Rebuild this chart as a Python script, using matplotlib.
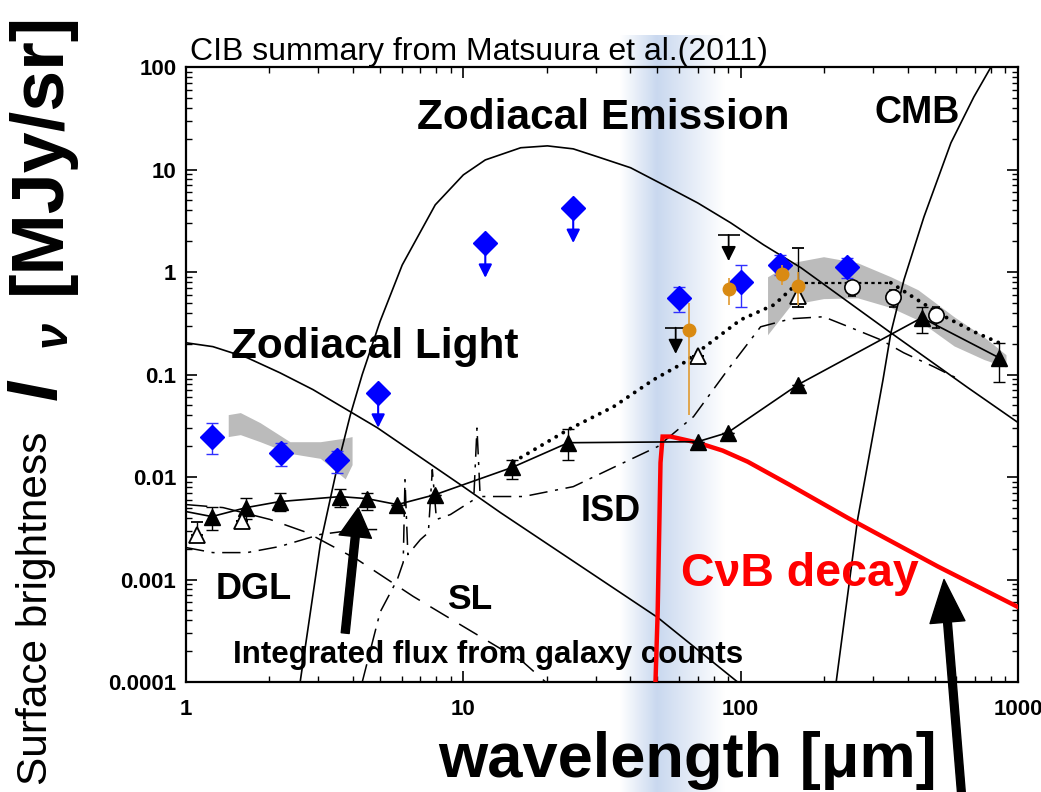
import numpy as np
import matplotlib.pyplot as plt
from matplotlib.ticker import NullFormatter

plt.rcParams['font.family'] = ['Liberation Sans', 'DejaVu Sans']

# -------------------------
# data (wavelength in um, brightness in MJy/sr)
# -------------------------
# Zodiacal emission
ze_x = [2.58, 3.05, 3.51, 3.91, 4.32, 5.01, 6.02, 7.92, 10.0, 12.0, 16.1, 20.1, 24.9,
        30.5, 40.1, 52.7, 70.0, 92.0, 121, 165, 348, 660, 1000]
ze_y = [1.0e-4, 2.2e-3, 0.0125, 0.040, 0.10, 0.33, 1.17, 4.52, 8.86, 12.4, 16.3, 17.0, 15.9,
        13.3, 10.4, 7.08, 4.72, 3.02, 1.84, 1.10, 0.255, 0.0743, 0.034]

# Zodiacal light
zl_x = [1.0, 1.25, 1.66, 2.18, 2.87, 4.89, 10.0, 13.6, 50.2, 97.5]
zl_y = [0.204, 0.187, 0.146, 0.104, 0.0712, 0.0303, 8.05e-3, 4.5e-3, 4.26e-4, 1.0e-4]

# CMB
cmb_x = [221, 264, 326, 348, 388, 458, 573, 693, 799]
cmb_y = [1.0e-4, 3.85e-3, 0.0889, 0.255, 0.84, 3.45, 18.2, 51, 100]

# starlight (long dashes)
sl_x = [1.0, 1.36, 2.01, 2.73, 4.14, 6.60, 10.0, 16.5, 19.8]
sl_y = [5.38e-3, 5.03e-3, 3.85e-3, 2.87e-3, 1.57e-3, 6.83e-4, 3.48e-4, 1.55e-4, 1.0e-4]

# DGL (dash-dot, near-IR)
dgl_x = [1.0, 1.25, 1.66, 2.18, 3.05, 4.14, 4.89]
dgl_y = [2.05e-3, 1.83e-3, 1.83e-3, 2.10e-3, 2.75e-3, 3.07e-3, 3.07e-3]

# ISD (dash-dot, with PAH features)
isd_x = [4.32, 5.01, 5.78, 6.07, 6.16, 6.31, 7.0, 7.48, 7.73, 8.0, 8.98, 10.9, 11.2, 11.5,
         16.5, 24.9, 34.8, 50.2, 67.6, 89.8, 118, 152, 199, 250, 320, 387, 497, 597]
isd_y = [1.0e-4, 4.8e-4, 1.0e-3, 1.47e-3, 9.4e-3, 1.75e-3, 2.45e-3, 2.87e-3, 0.0118, 3.85e-3,
         4.3e-3, 6.0e-3, 0.030, 6.45e-3, 6.45e-3, 8.05e-3, 0.0124, 0.0198, 0.0388, 0.111,
         0.292, 0.35, 0.366, 0.286, 0.218, 0.163, 0.119, 0.093]

# integrated galaxy counts (filled triangles + line)
gc_line_x = [1.0, 1.24, 1.65, 2.18, 3.60, 4.50, 5.78, 7.92, 15.0, 23.9, 70.0, 89.8, 161, 450, 853]
gc_line_y = [4.6e-3, 4.11e-3, 5.03e-3, 5.76e-3, 6.44e-3, 6.15e-3, 5.38e-3, 6.73e-3, 0.0124,
             0.0216, 0.0221, 0.0271, 0.0796, 0.358, 0.146]
tri_x = gc_line_x[1:]
tri_y = gc_line_y[1:]
tri_hi = [5.14e-3, 6.3e-3, 7.05e-3, 7.7e-3, 7.05e-3, 5.38e-3, 6.73e-3, 0.0148, 0.0297,
          0.0221, 0.0271, 0.0796, 0.458, 0.204]
tri_lo = [3.07e-3, 3.85e-3, 4.71e-3, 5.14e-3, 4.81e-3, 5.38e-3, 6.73e-3, 9.6e-3, 0.0148,
          0.0221, 0.0271, 0.0796, 0.255, 0.085]

# open triangles
otri_x = [1.10, 1.59, 70.0, 161]
otri_y = [2.69e-3, 3.76e-3, 0.15, 0.586]
otri_hi = [3.67e-3, 3.76e-3, 0.15, 1.72]
otri_lo = [2.69e-3, 3.76e-3, 0.15, 0.458]

# open circles
ocir_x = [252, 354, 506]
ocir_y = [0.718, 0.573, 0.383]
ocir_hi = [0.78, 0.671, 0.458]
ocir_lo = [0.58, 0.458, 0.286]

# dotted model
dot_x = [15.2, 23.9, 34.8, 48.5, 62.3, 100, 132, 161, 348, 422, 528, 694, 854]
dot_y = [0.0141, 0.029, 0.0485, 0.0889, 0.130, 0.342, 0.479, 0.785, 0.785, 0.561, 0.383,
         0.261, 0.204]

# gray bands
nir_band_x = [1.42, 1.57, 1.85, 2.37, 3.05, 3.75, 3.97]
nir_band_hi = [0.0406, 0.0425, 0.0339, 0.0221, 0.0221, 0.024, 0.0248]
nir_band_lo = [0.0248, 0.0259, 0.0221, 0.0170, 0.0152, 0.0096, 0.0132]
fir_band_x = [125, 152, 199, 264, 348, 436, 588, 754, 905]
fir_band_hi = [0.898, 1.23, 1.41, 1.23, 0.898, 0.671, 0.366, 0.233, 0.156]
fir_band_lo = [0.244, 0.48, 0.55, 0.56, 0.45, 0.34, 0.19, 0.14, 0.118]

# blue diamonds (detections)
bd_x = [1.24, 2.20, 3.51, 59.7, 100, 139, 241]
bd_y = [0.0248, 0.0173, 0.0148, 0.561, 0.80, 1.17, 1.12]
bd_hi = [0.0339, 0.0216, 0.0181, 0.718, 1.17, 1.47, 1.37]
bd_lo = [0.0169, 0.0129, 0.0110, 0.409, 0.458, 0.94, 0.877]

# blue diamonds (upper limits)
bul_x = [4.93, 12.0, 24.9]
bul_y = [0.0665, 1.93, 4.22]

# orange points
or_x = [64.9, 90.5, 141, 161]
or_y = [0.273, 0.686, 0.960, 0.734]
or_hi = [0.501, 0.877, 1.17, 1.0]
or_lo = [0.0406, 0.479, 0.75, 0.479]

# black upper limits
kul_x = [58.3, 90.5]
kul_y = [0.286, 2.3]

# C nu B decay
cnb_x = [49.3, 50.2, 51.4, 52.3, 55.9, 70.0, 86.1, 106, 150, 243, 514, 1008]
cnb_y = [1.0e-4, 4.77e-4, 0.0138, 0.0248, 0.0248, 0.0216, 0.0181, 0.0141, 8.4e-3, 4.0e-3,
         1.34e-3, 5.33e-4]

xtick_vals = [1, 10, 100, 1000]
xtick_labels = ['1', '10', '100', '1000']
ytick_vals = [1e-4, 1e-3, 1e-2, 1e-1, 1, 10, 100]
ytick_labels = ['0.0001', '0.001', '0.01', '0.1', '1', '10', '100']

# -------------------------
# figure
# -------------------------
W, H = 1041, 792
fig = plt.figure(figsize=(W / 100, H / 100), dpi=100)

# blue vertical glow behind the plot
bg = fig.add_axes([620 / W, 0, 105 / W, 757 / H], zorder=0)
cols = np.linspace(620, 725, 220)
alpha = np.interp(cols, [620, 657, 725], [0.0, 1.0, 0.0])
grad = np.zeros((1, len(cols), 4))
grad[..., 0] = 0.79
grad[..., 1] = 0.85
grad[..., 2] = 0.94
grad[..., 3] = alpha
bg.imshow(grad, aspect='auto', extent=[0, 1, 0, 1])
bg.axis('off')

ax = fig.add_axes([186 / W, 1 - 682 / H, 832 / W, 615 / H], zorder=1)
ax.patch.set_alpha(0)
ax.set_xscale('log')
ax.set_yscale('log')
ax.set_xlim(1, 1000)
ax.set_ylim(1e-4, 100)

ax.fill_between(nir_band_x, nir_band_lo, nir_band_hi, color='#bbbbbb', lw=0, zorder=1)
ax.fill_between(fir_band_x, fir_band_lo, fir_band_hi, color='#bbbbbb', lw=0, zorder=1)

ax.plot(ze_x, ze_y, color='black', lw=1.2, zorder=2)
ax.plot(zl_x, zl_y, color='black', lw=1.2, zorder=2)
ax.plot(cmb_x, cmb_y, color='black', lw=1.2, zorder=2)
ax.plot(sl_x, sl_y, color='black', lw=1.1, ls=(0, (14, 8)), zorder=2)
ax.plot(dgl_x, dgl_y, color='black', lw=1.1, ls=(0, (12, 5, 2, 5)), zorder=2)
ax.plot(isd_x, isd_y, color='black', lw=1.1, ls=(0, (12, 5, 2, 5)), zorder=2)

ax.plot(dot_x[:8], dot_y[:8], color='black', lw=2.8, ls=(0, (0.01, 2.1)),
        dash_capstyle='round', zorder=3)
ax.plot(dot_x[7:9], dot_y[7:9], color='black', lw=1.6, ls=(0, (1.5, 1.5)), zorder=3)
ax.plot(dot_x[8:], dot_y[8:], color='black', lw=2.8, ls=(0, (0.01, 2.1)),
        dash_capstyle='round', zorder=3)

ax.plot(cnb_x, cnb_y, color='#ff0000', lw=3.2, zorder=4, solid_joinstyle='miter')

ax.plot(gc_line_x, gc_line_y, color='black', lw=1.2, zorder=5)
ty = np.array(tri_y)
ax.errorbar(tri_x, tri_y, yerr=[ty - np.array(tri_lo), np.array(tri_hi) - ty], fmt='^',
            color='black', ms=11, ecolor='black', elinewidth=1, capsize=4, zorder=6)

oy = np.array(otri_y)
ax.errorbar(otri_x, otri_y, yerr=[oy - np.array(otri_lo), np.array(otri_hi) - oy], fmt='^',
            mfc='white', mec='black', mew=1.3, ms=11.5, ecolor='black', elinewidth=1,
            capsize=4, zorder=6)

cy = np.array(ocir_y)
ax.errorbar(ocir_x, ocir_y, yerr=[cy - np.array(ocir_lo), np.array(ocir_hi) - cy], fmt='o',
            mfc='white', mec='black', mew=1.2, ms=11, ecolor='black', elinewidth=1,
            capsize=3, zorder=6)

by = np.array(bd_y)
ax.errorbar(bd_x, bd_y, yerr=[by - np.array(bd_lo), np.array(bd_hi) - by], fmt='D',
            color='#0000ff', ms=12, ecolor='#3030ff', elinewidth=1, capsize=4, zorder=7)

ax.plot(bul_x, bul_y, 'D', color='#0000ff', ms=12, zorder=7)
for x, y in zip(bul_x, bul_y):
    ax.annotate('', xy=(x, y / 2.2), xytext=(x, y),
                arrowprops=dict(arrowstyle='-|>', color='#0000ff', lw=1.5,
                                mutation_scale=20, shrinkA=0, shrinkB=0), zorder=7)

ry = np.array(or_y)
ax.errorbar(or_x, or_y, yerr=[ry - np.array(or_lo), np.array(or_hi) - ry], fmt='o',
            color='#d98a12', ms=9, ecolor='#e09a30', elinewidth=1.2, capsize=0, zorder=8)

ax.plot(kul_x, kul_y, '_', color='black', ms=16, mew=1.2, zorder=8)
for x, y in zip(kul_x, kul_y):
    ax.annotate('', xy=(x, y / 1.8), xytext=(x, y),
                arrowprops=dict(arrowstyle='-|>', color='black', lw=1.3,
                                mutation_scale=22, shrinkA=0, shrinkB=0), zorder=8)

# arrows
ax.annotate('', xy=(4.18, 5.0e-3), xytext=(3.75, 3.0e-4),
            arrowprops=dict(arrowstyle='simple,head_width=0.9,head_length=0.8,tail_width=0.22',
                            color='black', mutation_scale=26, shrinkA=0, shrinkB=0), zorder=9)
ax.annotate('', xy=(541, 1.0e-3), xytext=(962 / W, -0.01), textcoords='figure fraction',
            arrowprops=dict(arrowstyle='simple,head_width=0.9,head_length=1.1,tail_width=0.2',
                            color='black', mutation_scale=28, shrinkA=0, shrinkB=0),
            annotation_clip=False, zorder=9)

# labels inside the plot
ax.text(32.0, 31.9, 'Zodiacal Emission', fontsize=30.5, fontweight='bold', ha='center', va='center')
ax.text(4.81, 0.187, 'Zodiacal Light', fontsize=30.5, fontweight='bold', ha='center', va='center')
ax.text(432, 35.6, 'CMB', fontsize=27, fontweight='bold', ha='center', va='center')
ax.text(1.75, 8.0e-4, 'DGL', fontsize=26, fontweight='bold', ha='center', va='center')
ax.text(10.5, 6.4e-4, 'SL', fontsize=25.5, fontweight='bold', ha='center', va='center')
ax.text(33.9, 4.6e-3, 'ISD', fontsize=26, fontweight='bold', ha='center', va='center')
ax.text(163, 1.12e-3, 'C\u03bdB decay', fontsize=33.5, fontweight='bold', color='#ff0000',
        ha='center', va='center')
ax.text(12.3, 1.85e-4, 'Integrated flux from galaxy counts', fontsize=22.5, fontweight='bold',
        ha='center', va='center')

ax.text(0.005, 1.0, 'CIB summary from Matsuura et al.(2011)', transform=ax.transAxes,
        fontsize=23, ha='left', va='bottom')

# axes styling
ax.set_xticks(xtick_vals, xtick_labels)
ax.set_yticks(ytick_vals, ytick_labels)
ax.xaxis.set_minor_formatter(NullFormatter())
ax.yaxis.set_minor_formatter(NullFormatter())
ax.tick_params(which='both', direction='in', top=True, right=True)
ax.tick_params(which='major', length=8, width=1.2, labelsize=16)
ax.tick_params(axis='x', which='major', pad=12)
ax.tick_params(axis='y', which='major', pad=7)
ax.tick_params(which='minor', length=4.5, width=1.0)
for lab in ax.get_xticklabels() + ax.get_yticklabels():
    lab.set_fontweight('bold')
for sp in ax.spines.values():
    sp.set_linewidth(1.6)

# axis titles
fig.text(688 / W, 1 - 760 / H, 'wavelength [\u03bcm]', fontsize=45.5, fontweight='bold',
         ha='center', va='center')
fig.text(36 / W, 1 - 608 / H, 'Surface brightness', fontsize=30.5, rotation=90,
         ha='center', va='center')
fig.text(38 / W, 1 - 390 / H, 'I', fontsize=52, fontweight='bold', style='italic',
         rotation=90, ha='center', va='center')
fig.text(54 / W, 1 - 334 / H, '\u03bd', fontsize=34, fontweight='bold', style='italic',
         rotation=90, ha='center', va='center')
fig.text(40 / W, 1 - 153 / H, '[MJy/sr]', fontsize=53, fontweight='bold', rotation=90,
         ha='center', va='center')

plt.savefig('out.png', dpi=100)
